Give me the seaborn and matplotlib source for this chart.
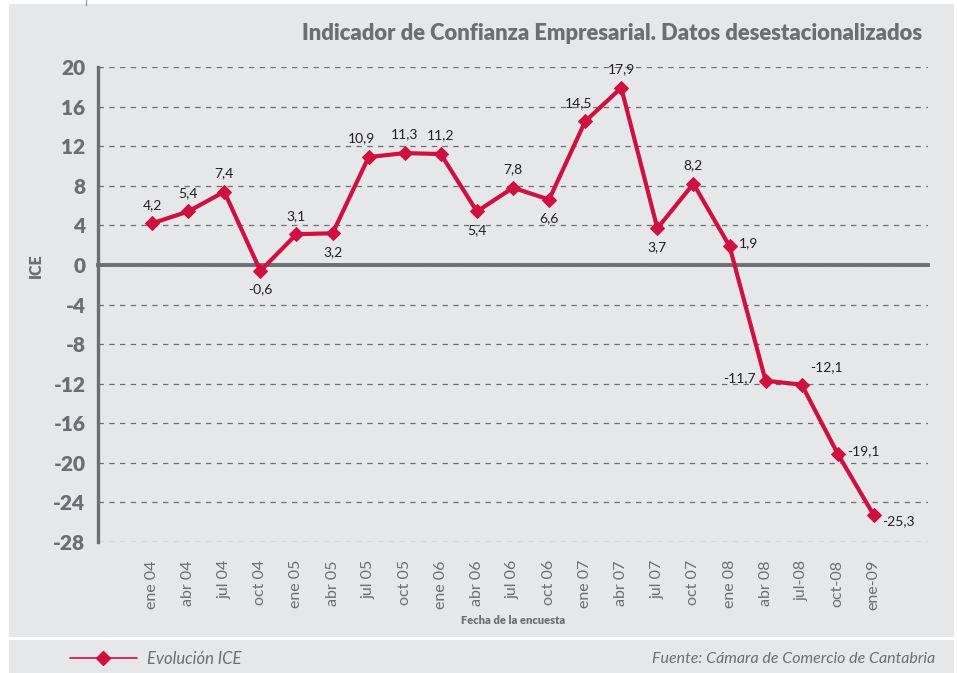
import numpy as np
import pandas as pd
import seaborn as sns
import matplotlib
matplotlib.use("Agg")
import matplotlib.pyplot as plt
from matplotlib.patches import Rectangle
from matplotlib.lines import Line2D

# ---- data ----
periods = ["ene 04", "abr 04", "jul 04", "oct 04", "ene 05", "abr 05", "jul 05",
           "oct 05", "ene 06", "abr 06", "jul 06", "oct 06", "ene 07", "abr 07",
           "jul 07", "oct 07", "ene 08", "abr 08", "jul-08", "oct-08", "ene-09"]
ice_values = [4.2, 5.4, 7.4, -0.6, 3.1, 3.2, 10.9, 11.3, 11.2, 5.4, 7.8, 6.6,
              14.5, 17.9, 3.7, 8.2, 1.9, -11.7, -12.1, -19.1, -25.3]
y_ticks = list(range(-28, 21, 4))

# label placement codes (style only)
label_pos = ["a", "a", "a", "b", "a", "b", "al", "a", "a", "b", "a", "b",
             "al", "a", "b", "a", "r", "l", "ar", "r", "rb"]

title = "Indicador de Confianza Empresarial. Datos desestacionalizados"
series_name = "Evolución ICE"
source = "Fuente: Cámara de Comercio de Cantabria"

# ---- style ----
sns.set_theme(style="white")
plt.rcParams['font.family'] = ['Lato', 'DejaVu Sans']
GRAY_BG = "#e6e7e9"
TXT = "#6d6e71"
RED = "#d0103e"

df = pd.DataFrame({"idx": np.arange(len(periods)), "ICE": ice_values, "periodo": periods})

W, H = 957, 673
fig = plt.figure(figsize=(W / 100, H / 100), dpi=100, facecolor="white")

# panels
fig.patches.append(Rectangle((9 / W, 1 - 637 / H), 945 / W, 633 / H,
                             transform=fig.transFigure, facecolor=GRAY_BG,
                             edgecolor="none", zorder=-10))
fig.patches.append(Rectangle((9 / W, 0), 945 / W, 33 / H,
                             transform=fig.transFigure, facecolor=GRAY_BG,
                             edgecolor="none", zorder=-10))
fig.lines.append(Line2D([86 / W, 86 / W], [1, 1 - 5 / H], transform=fig.transFigure,
                        color="#9a9b9d", lw=1))

ax = fig.add_axes([98 / W, 1 - 542 / H, (928 - 98) / W, (542 - 67) / H])
ax.set_facecolor(GRAY_BG)

sns.lineplot(data=df, x="idx", y="ICE", ax=ax, color=RED, lw=3.0, marker="D",
             markersize=7.5, markeredgecolor=RED, markerfacecolor=RED,
             sort=False, legend=False, zorder=5, label=series_name)

ax.set_xlim(-1.5, 21.5)
ax.set_ylim(-28, 20)
ax.set_yticks(y_ticks)
ax.set_yticklabels([str(t) for t in y_ticks], fontsize=15, fontweight="heavy", color=TXT)
ax.yaxis.grid(True, linestyle=(0, (4.3, 4.3)), color=TXT, lw=0.9)
ax.xaxis.grid(False)
ax.set_axisbelow(True)

for s in ["top", "right"]:
    ax.spines[s].set_visible(False)
ax.spines["left"].set_color(TXT)
ax.spines["left"].set_linewidth(2.4)
ax.spines["bottom"].set_position(("data", 0))
ax.spines["bottom"].set_color(TXT)
ax.spines["bottom"].set_linewidth(2.8)
ax.spines["bottom"].set_zorder(3)

ax.set_xticks(np.arange(-0.5, 22, 1.0))
ax.set_xticklabels([])
ax.tick_params(axis="x", direction="out", length=5, width=2, color=TXT)
ax.tick_params(axis="y", direction="out", length=5, width=2, color=TXT, pad=4)
ax.set_xlabel("")
ax.set_ylabel("")

sec = ax.secondary_xaxis("bottom")
sec.set_xticks(df["idx"].tolist())
sec.set_xticklabels(periods, rotation=90, fontsize=11.5, color=TXT, va="top")
sec.tick_params(length=0, pad=13)
sec.spines["bottom"].set_visible(False)

# data labels
offs = {"a": (0, 9, "center", "bottom"), "b": (0, -9, "center", "top"),
        "al": (-5, 9, "center", "bottom"), "r": (7, 2, "left", "center"),
        "l": (-7, 2, "right", "center"), "ar": (6, 8, "left", "bottom"),
        "rb": (6, -4, "left", "center")}
for i, (v, p) in enumerate(zip(ice_values, label_pos)):
    dx, dy, ha, va = offs[p]
    ax.annotate(f"{v:.1f}".replace(".", ","), (i, v), xytext=(dx, dy),
                textcoords="offset points", ha=ha, va=va, fontsize=10,
                color="#231f20", zorder=6)

fig.text(922 / W, 1 - 33 / H, title, ha="right", va="center", fontsize=15.8,
         fontweight="heavy", color=TXT)
fig.text(36 / W, 1 - 266 / H, "ICE", rotation=90, ha="center", va="center",
         fontsize=11.5, fontweight="heavy", color=TXT)
fig.text(513 / W, 1 - 621 / H, "Fecha de la encuesta", ha="center", va="center",
         fontsize=8, fontweight="heavy", color=TXT)

# footer legend
handle = Line2D([], [], color=RED, lw=1.2, marker="D", markersize=7,
                markerfacecolor=RED, markeredgecolor=RED)
leg = fig.legend([handle], [series_name], loc="center left",
                 bbox_to_anchor=(55 / W, 1 - 659 / H), frameon=False,
                 handlelength=4.0, handletextpad=0.6,
                 prop={"size": 12, "style": "italic"})
for t in leg.get_texts():
    t.set_color(TXT)
fig.text(935 / W, 1 - 659 / H, source, ha="right", va="center", fontsize=11.5,
         style="italic", color=TXT)

fig.savefig("out.png", dpi=100, facecolor="white")
